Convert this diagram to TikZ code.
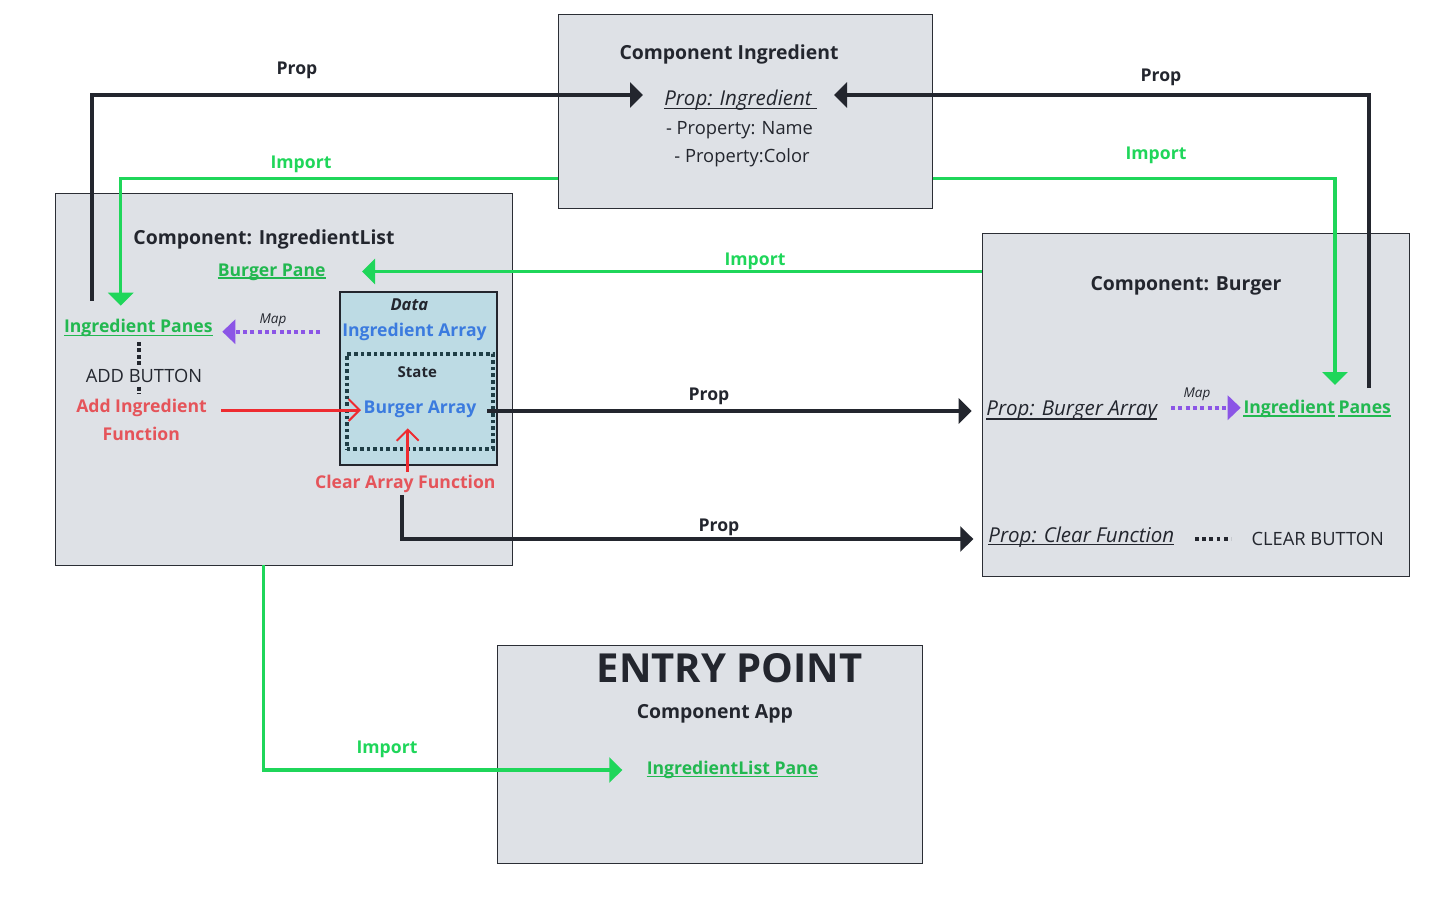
\documentclass[tikz,border=0pt]{standalone}
\usepackage{fontspec}
\setmainfont{Open Sans}
\usetikzlibrary{arrows.meta}
\definecolor{boxfill}{HTML}{DEE1E6}
\definecolor{boxline}{HTML}{2B2E35}
\definecolor{ink}{HTML}{23262E}
\definecolor{gline}{HTML}{1FD65A}
\definecolor{gtext}{HTML}{22B850}
\definecolor{rline}{HTML}{EE2B30}
\definecolor{rtext}{HTML}{E5545A}
\definecolor{btext}{HTML}{3B7BDF}
\definecolor{purp}{HTML}{8B55E6}
\definecolor{lblue}{HTML}{BDDBE4}
\definecolor{slate}{HTML}{1F3E46}
\newcommand\myfs[1]{\fontsize{#1}{#1}\selectfont}
\begin{document}
\begin{tikzpicture}[x=1pt,y=-1pt,
  box/.style={draw=boxline,line width=1pt,fill=boxfill,anchor=north west,inner sep=0pt},
  t/.style={inner sep=0pt,anchor=base,text=ink,font=\myfs{18.3}},
  tb/.style={t,font=\myfs{17.6}\bfseries},
  title/.style={t,font=\myfs{19.4}\bfseries},
  it/.style={t,font=\myfs{20.5}\itshape},
  glbl/.style={tb,text=gline},
  glink/.style={tb,text=gtext},
  ulk/.style={draw=ink,line width=1.3pt},
  ulg/.style={draw=gtext,line width=1.5pt},
  blk/.style={draw=ink,line width=4pt,-{Triangle[length=13pt,width=25pt]}},
  grn/.style={draw=gline,line width=3.2pt,-{Triangle[length=13pt,width=25pt]}},
  pur/.style={draw=purp,line width=4pt,dash pattern=on 4pt off 3.3pt,-{Triangle[length=13pt,width=24pt]}},
  rarr/.style={draw=rline,line width=3pt,-{Straight Barb[length=11pt,width=22pt,line width=2pt]}},
  dots/.style={draw=ink,line width=4pt,dash pattern=on 3.8pt off 3.4pt},
]
\fill[white] (0,0) rectangle (1440,900);
\useasboundingbox (0,0) rectangle (1440,900);

% boxes
\node[box,minimum width=374pt,minimum height=194pt] (ingBox) at (558,14) {};
\node[box,minimum width=457pt,minimum height=372pt] (listBox) at (55,193) {};
\node[box,minimum width=427pt,minimum height=343pt] (burgerBox) at (982,233) {};
\node[box,minimum width=425pt,minimum height=218pt] (appBox) at (497,645) {};
\node[draw=ink,line width=2pt,fill=lblue,minimum width=157pt,minimum height=173pt,anchor=north west,inner sep=0pt] (dataBox) at (339,291) {};
\node[draw=slate,line width=3.6pt,dash pattern=on 3.6pt off 3pt,minimum width=146pt,minimum height=95pt,anchor=north west,inner sep=0pt] (stateBox) at (345,352) {};

% connector end points
\coordinate (c1) at (91.7,300.7);  \coordinate (c1t) at (643,95);
\coordinate (c2) at (1369,388);    \coordinate (c2t) at (834,95);
\coordinate (g1s) at (558,178.5);  \coordinate (g1t) at (120.7,305.7);
\coordinate (g2s) at (932.5,178.5);\coordinate (g2t) at (1335,385);
\coordinate (g3s) at (982,271.5);  \coordinate (g3t) at (362,271.5);
\coordinate (g4s) at (263.5,565);  \coordinate (g4t) at (622.3,770);
\coordinate (m1s) at (320,331.7);  \coordinate (m1t) at (222.3,331.7);
\coordinate (m2s) at (1171,407.7); \coordinate (m2t) at (1240.7,407.7);
\coordinate (r1s) at (221,410);    \coordinate (r1t) at (361,410);
\coordinate (r2s) at (407.7,471.7);\coordinate (r2t) at (407.7,428.3);
\coordinate (b1s) at (487,411);    \coordinate (b1t) at (971.7,411);
\coordinate (b2s) at (402,495);    \coordinate (b2t) at (973.3,539);
\coordinate (d1s) at (138.7,342);  \coordinate (d1t) at (138.7,393.5);
\coordinate (d2s) at (1195,539);   \coordinate (d2t) at (1231,539);

% connectors
\draw[blk] (c1) |- (c1t);
\draw[blk] (c2) |- (c2t);
\draw[grn] (g1s) -| (g1t);
\draw[grn] (g2s) -| (g2t);
\draw[grn] (g3s) -- (g3t);
\draw[grn] (g4s) |- (g4t);
\draw[pur] (m1s) -- (m1t);
\draw[pur] (m2s) -- (m2t);
\draw[rarr] (r1s) -- (r1t);
\draw[rarr] (r2s) -- (r2t);
\draw[blk] (b1s) -- (b1t);
\draw[blk] (b2s) |- (b2t);
\draw[dots,dash pattern=on 3.8pt off 2.6pt] (d1s) -- (d1t);
\draw[dots] (d2s) -- (d2t);

% labels on connectors
\node[tb] (propTL) at (297,74) {Prop};
\node[tb] (propTR) at (1161,81.7) {Prop};
\node[glbl] (impTL) at (301,168) {Import};
\node[glbl] (impTR) at (1156,159) {Import};
\node[glbl] (impMid) at (755,265.5) {Import};
\node[glbl] (impBot) at (387,753.3) {Import};
\node[tb] (propM1) at (709,400.7) {Prop};
\node[tb] (propM2) at (719,531.7) {Prop};
\node[t,font=\myfs{13.5}\itshape] (mapL) at (273,323) {Map};
\node[t,font=\myfs{13.5}\itshape] (mapR) at (1197,397) {Map};

% Component Ingredient
\node[title] (ingTitle) at (729,59.3) {Component Ingredient};
\node[it] (propIng) at (738,105) {Prop: Ingredient};
\draw[ulk] ([yshift=-3.7pt]propIng.base west) -- ([xshift=5pt,yshift=-3.7pt]propIng.base east);
\node[t] (propName) at (739.5,134) {- Property: Name};
\node[t] (propColor) at (742,162.7) {- Property:Color};

% IngredientList
\node[title] (listTitle) at (264,244) {Component: IngredientList};
\node[glink] (burgerPane) at (271.7,276) {Burger Pane};
\draw[ulg] ([yshift=-2pt]burgerPane.base west) -- ([yshift=-2pt]burgerPane.base east);
\node[glink] (panesL) at (138.3,332.7) {Ingredient Panes};
\draw[ulg] ([yshift=-3pt]panesL.base west) -- ([yshift=-3pt]panesL.base east);
\node[t,fill=boxfill,inner sep=1.5pt] (addBtn) at (144,382.3) {ADD BUTTON};
\node[tb,text=rtext] (addFn1) at (141.5,412.7) {Add Ingredient};
\node[tb,text=rtext] (addFn2) at (141.3,440.7) {Function};
\node[t,font=\myfs{16.5}\bfseries\itshape] (dataLbl) at (409.3,310.7) {Data};
\node[tb,text=btext] (ingArr) at (414.5,336) {Ingredient Array};
\node[t,font=\myfs{15}\bfseries] (stateLbl) at (417.3,377.3) {State};
\node[tb,text=btext] (burgArr) at (420,413.3) {Burger Array};
\node[tb,text=rtext] (clearFn) at (405.3,488.3) {Clear Array Function};

% Burger
\node[title] (burgerTitle) at (1186,290) {Component: Burger};
\node[it] (propBA) at (1071.7,415.7) {Prop: Burger Array};
\draw[ulk] ([yshift=-3.3pt]propBA.base west) -- ([yshift=-3.3pt]propBA.base east);
\node[glink,anchor=base west] (panesR1) at (1243.3,413.3) {Ingredient};
\node[glink,anchor=base west] (panesR2) at (1338.3,413.3) {Panes};
\draw[ulg] ([yshift=-2.5pt]panesR1.base west) -- ([yshift=-2.5pt]panesR1.base east);
\draw[ulg] ([yshift=-2.5pt]panesR2.base west) -- ([yshift=-2.5pt]panesR2.base east);
\node[it] (propCF) at (1081.3,542.3) {Prop: Clear Function};
\draw[ulk] ([yshift=-2pt]propCF.base west) -- ([yshift=-2pt]propCF.base east);
\node[t] (clearBtn) at (1317.8,545) {CLEAR BUTTON};

% Entry point
\node[t,font=\myfs{40}\bfseries] (entry) at (729.5,682.7) {ENTRY POINT};
\node[title] (appTitle) at (714.8,718.3) {Component App};
\node[glink] (ilPane) at (732.5,774) {IngredientList Pane};
\draw[ulg] ([yshift=-2.7pt]ilPane.base west) -- ([yshift=-2.7pt]ilPane.base east);
\end{tikzpicture}
\end{document}
